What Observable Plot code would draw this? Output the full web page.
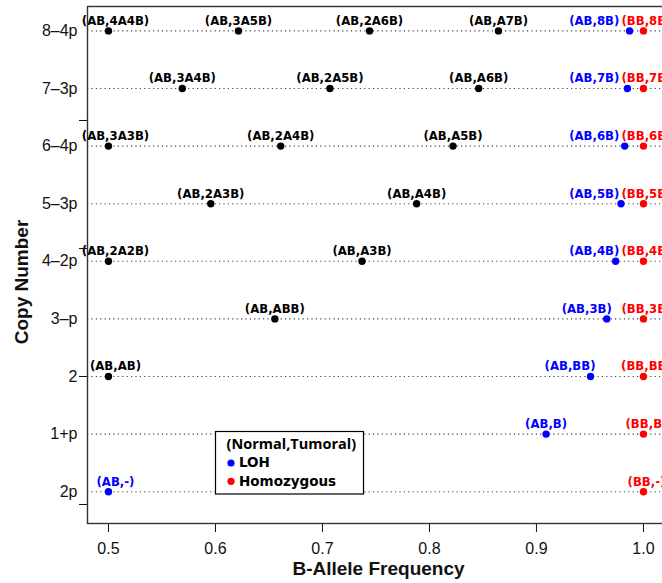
<!DOCTYPE html>
<html><head><meta charset="utf-8">
<script src="https://cdn.jsdelivr.net/npm/d3@7"></script>
<script src="https://cdn.jsdelivr.net/npm/@observablehq/plot@0.6"></script>
<style>
html,body{margin:0;padding:0;background:#fff;overflow:hidden;}
#wrap{position:relative;width:662px;height:583px;overflow:hidden;}
#wrap svg{max-width:none !important;display:block;}
</style></head><body><div id="wrap"></div>
<script>
// Y levels (copy number states) and their positions
const levelLabels = ["2p","1+p","2","3–p","4–2p","5–3p","6–4p","7–3p","8–4p"];
const levelValues = [0.2, 1.1, 2, 2.9, 3.8, 4.7, 5.6, 6.5, 7.4];
const xTicks = [0.5, 0.6, 0.7, 0.8, 0.9, 1.0];
const yTicks = [0, 2, 4, 6];

// Points: genotype (Normal,Tumoral), level, B-allele frequency, type
const genotypes = [
  "(AB,4A4B)","(AB,3A5B)","(AB,2A6B)","(AB,A7B)","(AB,8B)","(BB,8B)",
  "(AB,3A4B)","(AB,2A5B)","(AB,A6B)","(AB,7B)","(BB,7B)",
  "(AB,3A3B)","(AB,2A4B)","(AB,A5B)","(AB,6B)","(BB,6B)",
  "(AB,2A3B)","(AB,A4B)","(AB,5B)","(BB,5B)",
  "(AB,2A2B)","(AB,A3B)","(AB,4B)","(BB,4B)",
  "(AB,ABB)","(AB,3B)","(BB,3B)",
  "(AB,AB)","(AB,BB)","(BB,BB)",
  "(AB,B)","(BB,B)",
  "(AB,-)","(BB,-)"
];
const pointLevels = [
  "8–4p","8–4p","8–4p","8–4p","8–4p","8–4p",
  "7–3p","7–3p","7–3p","7–3p","7–3p",
  "6–4p","6–4p","6–4p","6–4p","6–4p",
  "5–3p","5–3p","5–3p","5–3p",
  "4–2p","4–2p","4–2p","4–2p",
  "3–p","3–p","3–p",
  "2","2","2",
  "1+p","1+p",
  "2p","2p"
];
const baf = [
  0.5, 0.6215, 0.744, 0.8645, 0.987, 1.0,
  0.569, 0.707, 0.846, 0.985, 1.0,
  0.5, 0.661, 0.822, 0.9825, 1.0,
  0.5956, 0.788, 0.979, 1.0,
  0.5, 0.737, 0.974, 1.0,
  0.6555, 0.9657, 1.0,
  0.5, 0.9505, 1.0,
  0.909, 1.0,
  0.5, 1.0
];
const types = [
  "het","het","het","het","LOH","hom",
  "het","het","het","LOH","hom",
  "het","het","het","LOH","hom",
  "het","het","LOH","hom",
  "het","het","LOH","hom",
  "het","LOH","hom",
  "het","LOH","hom",
  "LOH","hom",
  "LOH","hom"
];
const typeColors = {het: "#000000", LOH: "#0000FF", hom: "#FF0000"};
const legendTitle = "(Normal,Tumoral)";
const legendItems = [["LOH", "LOH"], ["Homozygous", "hom"]];

const data = genotypes.map((g, i) => ({
  genotype: g,
  y: levelValues[levelLabels.indexOf(pointLevels[i])],
  baf: baf[i],
  color: typeColors[types[i]],
  type: types[i]
}));
const labelMap = new Map(levelValues.map((v, i) => [v, levelLabels[i]]));

// label placement rules (avoid collisions between LOH and homozygous labels)
const isEnd = d => d.type === "LOH" && d.baf > 0.94;
const isHom = d => d.type === "hom";
const isLeftEdge = d => d.baf === 0.5;
const labelFont = "'Liberation Sans Narrow','DejaVu Sans Condensed','Arial Narrow',sans-serif";
const textOpts = {x: "baf", y: "y", text: "genotype", fill: "color", fontWeight: "bold",
  fontFamily: labelFont, fontSize: 13, lineAnchor: "bottom", dy: -6};

const svg = Plot.plot({
  width: 680, height: 583,
  marginLeft: 87, marginRight: 15, marginTop: 6, marginBottom: 60,
  style: {fontFamily: "'Liberation Sans',Arial,Helvetica,sans-serif", fontSize: "16px", color: "#111", background: "#fff", maxWidth: "none"},
  x: {domain: [0.4804, 1.0206]},
  y: {domain: [-0.297, 7.781]},
  color: {type: "identity"},
  marks: [
    Plot.ruleY(levelValues, {stroke: "#444", strokeDasharray: "1.2,3.2", strokeWidth: 1.1}),
    Plot.dot(data, {x: "baf", y: "y", r: 3.7, fill: "color", stroke: null}),
    Plot.text(data.filter(d => isLeftEdge(d)), {...textOpts, textAnchor: "middle", dx: 7}),
    Plot.text(data.filter(d => !isLeftEdge(d) && !isEnd(d) && !isHom(d)), {...textOpts, textAnchor: "middle"}),
    Plot.text(data.filter(d => isHom(d)), {...textOpts, textAnchor: "middle", dx: 3}),
    Plot.text(data.filter(d => isEnd(d)), {...textOpts, x: d => Math.min(d.baf + 0.0047, 0.9775), textAnchor: "end"}),
    Plot.axisX({ticks: xTicks, tickSize: 9, tickPadding: 10, fontSize: 16, tickFormat: d3.format(".1f"), label: null}),
    Plot.axisY({ticks: yTicks, tickSize: 8, tickFormat: () => "", label: null}),
    Plot.axisY({ticks: levelValues, tickSize: 0, tickPadding: 10, fontSize: 16, tickFormat: d => labelMap.get(d), label: null}),
    Plot.frame({stroke: "#333", strokeWidth: 1.4})
  ]
});
document.getElementById("wrap").appendChild(svg);

const s = d3.select(svg);
s.append("text")
  .attr("transform", "translate(27.5,282) rotate(-90)")
  .attr("text-anchor", "middle")
  .attr("font-family", "'Liberation Sans',Arial,Helvetica,sans-serif")
  .attr("font-weight", "bold").attr("font-size", 19).attr("fill", "#111")
  .text("Copy Number");
s.append("text")
  .attr("x", 378.5).attr("y", 575)
  .attr("text-anchor", "middle")
  .attr("font-family", "'Liberation Sans',Arial,Helvetica,sans-serif")
  .attr("font-weight", "bold").attr("font-size", 19).attr("fill", "#111")
  .text("B-Allele Frequency");

const lg = s.append("g").attr("text-anchor", "start");
lg.append("rect").attr("x", 215.5).attr("y", 431.5).attr("width", 148).attr("height", 62.5)
  .attr("fill", "#fff").attr("stroke", "#000").attr("stroke-width", 1.2);
lg.append("text").attr("x", 226.5).attr("y", 448.5).attr("text-anchor", "start")
  .attr("font-family", "'Open Sans',Lato,sans-serif").attr("font-weight", "bold")
  .attr("font-size", 14.5).attr("fill", "#000").text(legendTitle);
legendItems.forEach(([name, t], i) => {
  const cy = 463 + i * 18.3;
  lg.append("circle").attr("cx", 231).attr("cy", cy).attr("r", 3.6).attr("fill", typeColors[t]);
  lg.append("text").attr("x", 239).attr("y", cy + 4.3).attr("text-anchor", "start")
    .attr("font-family", "'DejaVu Sans',Verdana,sans-serif").attr("font-weight", "bold")
    .attr("font-size", 13.5).attr("fill", "#000").text(name);
});
</script></body></html>
